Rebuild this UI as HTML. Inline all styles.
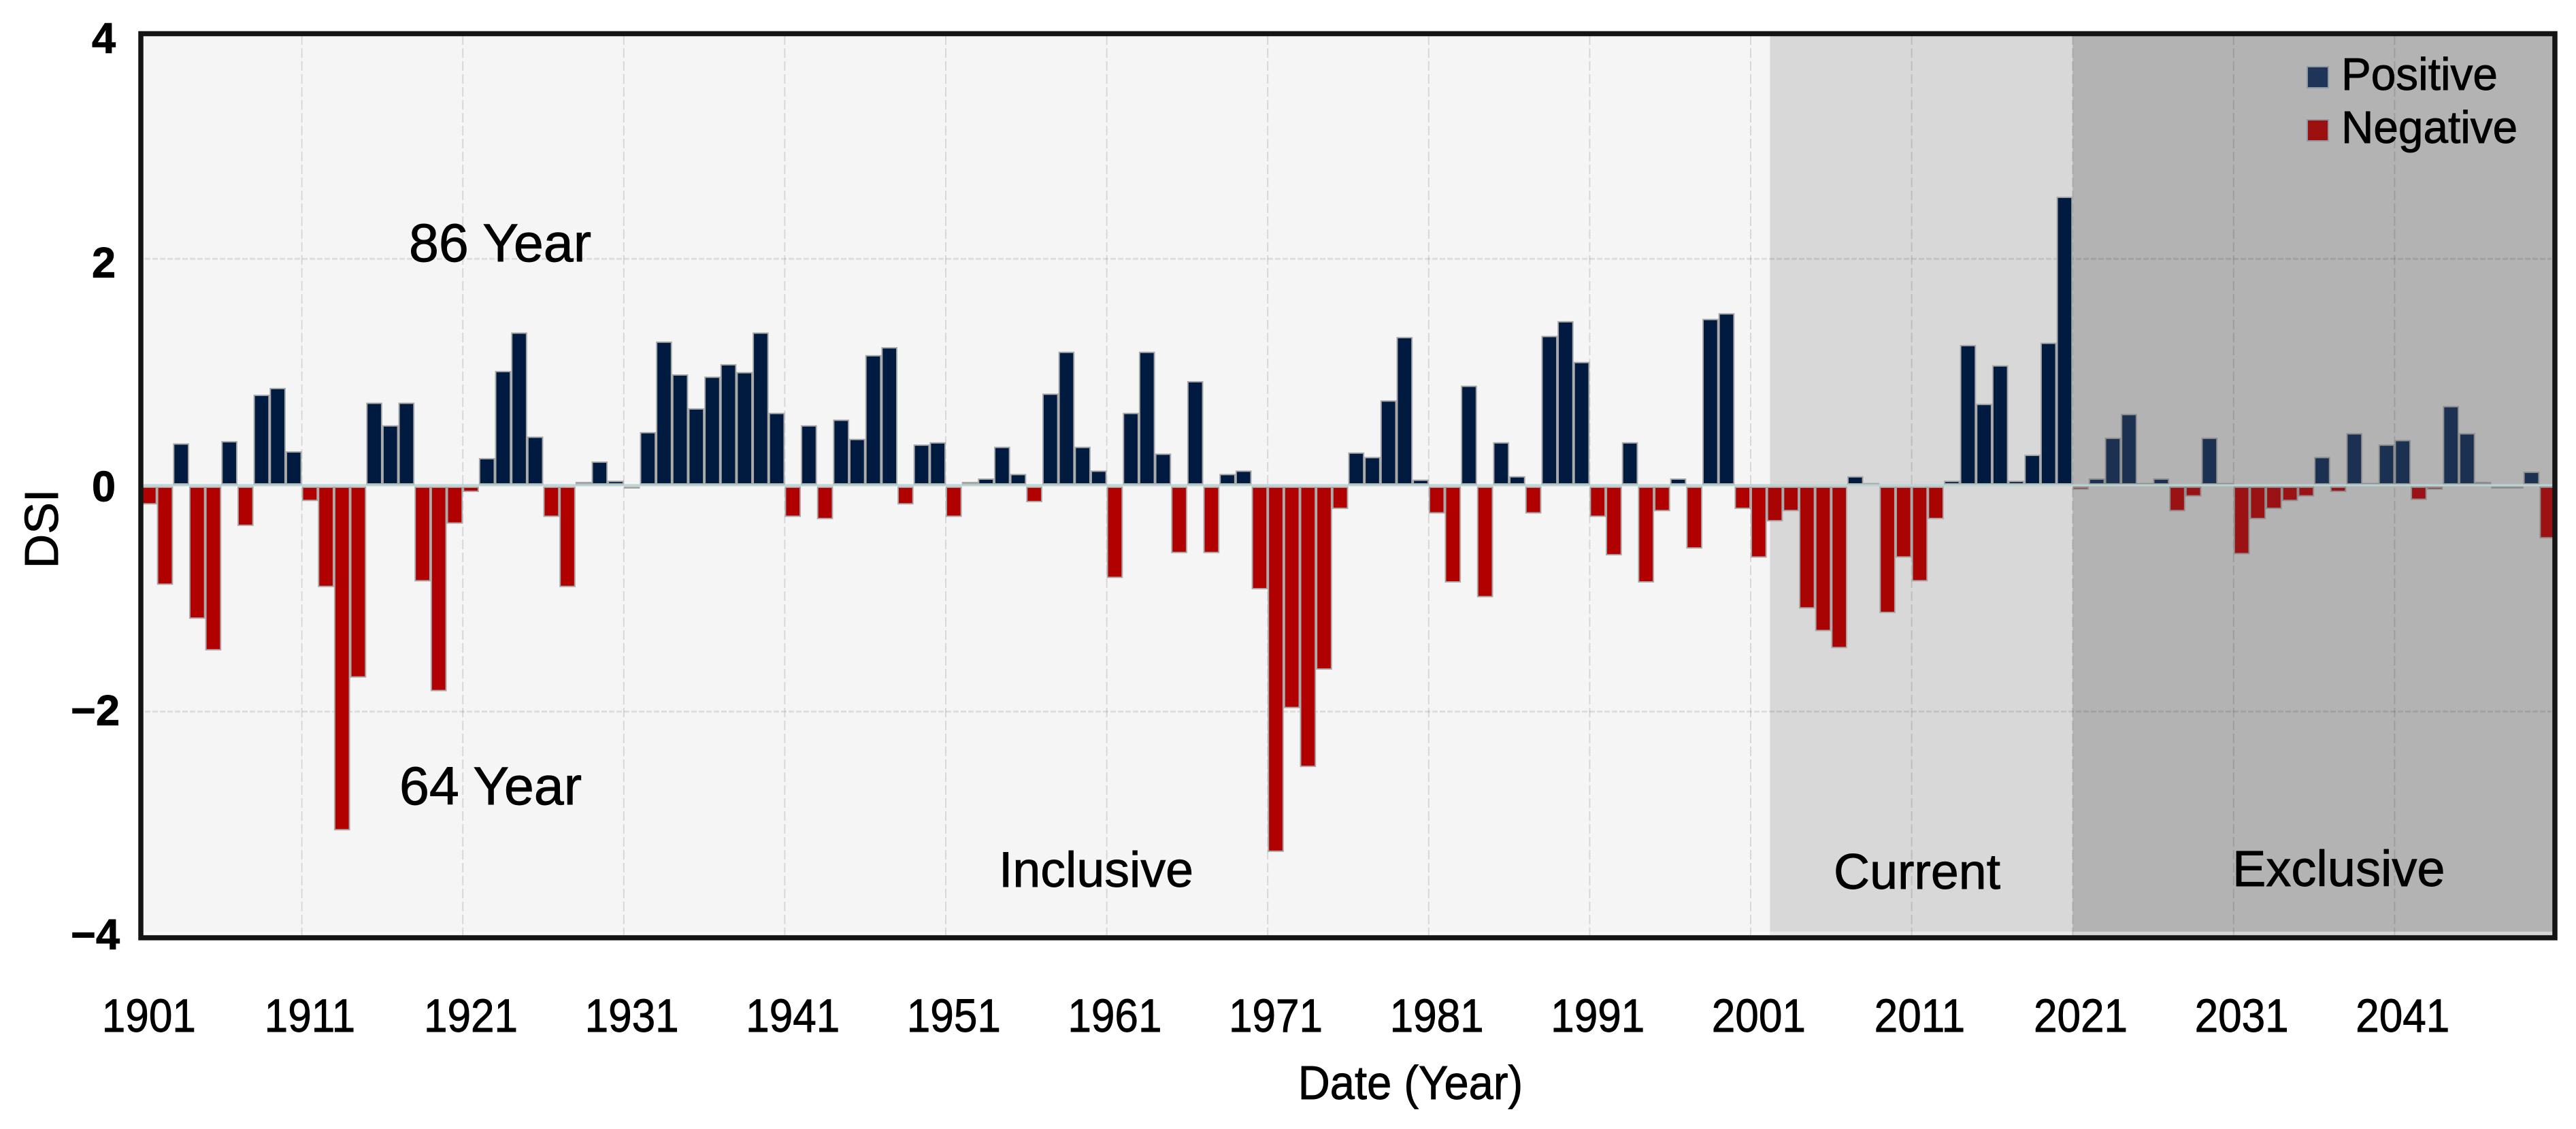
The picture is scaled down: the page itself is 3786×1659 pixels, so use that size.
<!DOCTYPE html>
<html lang="en">
<head>
<meta charset="utf-8">
<title>DSI by year</title>
<style>
html,body{margin:0;padding:0;background:#fff;width:3786px;height:1659px;overflow:hidden}
svg{display:block;font-family:"Liberation Sans",sans-serif}
text{fill:#000;stroke:#000;stroke-width:0.9px}
</style>
</head>
<body>
<svg id="chart" xmlns="http://www.w3.org/2000/svg" width="3786" height="1659" viewBox="0 0 3786 1659">
  <rect x="0" y="0" width="3786" height="1659" fill="#ffffff"/>
  <g id="regions"></g>
  <g id="grid"></g>
  <g id="bars"></g>
  <rect x="211" y="711.5" width="3540" height="3" fill="#b9d2d2"/>
  <rect x="207" y="49.5" width="3548" height="1328.5" fill="none" stroke="#141414" stroke-width="7.5"/>
  <g id="y-ticks"></g>
  <g id="x-ticks"></g>
  <text transform="translate(85,777) rotate(-90)" font-size="70" text-anchor="middle">DSI</text>
  <text transform="translate(2073,1615) scale(0.93,1)" font-size="70" text-anchor="middle">Date (Year)</text>
  <text x="601" y="384" font-size="79">86 Year</text>
  <text x="587" y="1182" font-size="79">64 Year</text>
  <text x="1468" y="1303" font-size="73.5">Inclusive</text>
  <text x="2695" y="1306" font-size="73.5">Current</text>
  <text x="3281" y="1302" font-size="74">Exclusive</text>
  <g>
    <g>
      <rect x="3391" y="98" width="31" height="31" fill="#1f3557" stroke="#8f9aa5" stroke-width="2"/>
      <text transform="translate(3441,132) scale(0.98,1)" font-size="67">Positive</text>
    </g>
    <g>
      <rect x="3391" y="176" width="31" height="31" fill="#9c1010" stroke="#8f9aa5" stroke-width="2"/>
      <text transform="translate(3441,210) scale(0.98,1)" font-size="67">Negative</text>
    </g>
  </g>
</svg>
<script>
const firstYear = 1901;
const dsiValues = [
  -0.17,-0.88,0.37,-1.18,-1.46,0.39,-0.36,0.80,0.86,0.30,
  -0.14,-0.90,-3.05,-1.70,0.73,0.53,0.73,-0.85,-1.82,-0.34,
  -0.06,0.24,1.01,1.35,0.43,-0.28,-0.90,0.03,0.21,0.04,
  -0.03,0.47,1.27,0.98,0.68,0.96,1.07,1.00,1.35,0.64,
  -0.28,0.53,-0.30,0.58,0.41,1.15,1.22,-0.17,0.36,0.38,
  -0.28,0.03,0.06,0.34,0.10,-0.15,0.81,1.18,0.34,0.13,
  -0.82,0.64,1.18,0.28,-0.60,0.92,-0.60,0.10,0.13,-0.92,
  -3.24,-1.97,-2.49,-1.63,-0.21,0.29,0.25,0.75,1.31,0.05,
  -0.25,-0.86,0.88,-0.99,0.38,0.08,-0.25,1.32,1.45,1.09,
  -0.28,-0.62,0.38,-0.86,-0.23,0.06,-0.56,1.47,1.52,-0.21,
  -0.64,-0.32,-0.23,-1.09,-1.29,-1.44,0.08,0.02,-1.13,-0.64,
  -0.85,-0.30,0.04,1.24,0.72,1.06,0.04,0.27,1.26,2.55,
  -0.04,0.06,0.42,0.63,0.02,0.06,-0.23,-0.10,0.42,0.02,
  -0.61,-0.30,-0.21,-0.14,-0.10,0.25,-0.06,0.46,0.02,0.36,
  0.40,-0.13,-0.04,0.70,0.46,0.03,-0.03,-0.03,0.12,-0.47
];
const xTickYears = [1901,1911,1921,1931,1941,1951,1961,1971,1981,1991,2001,2011,2021,2031,2041];
const yTickValues = [4,2,0,-2,-4];
const yTickLabels = ["4","2","0","\u22122","\u22124"];
const gridValues = [2,-2];
const regionNames = ["inclusive","current","exclusive"];
const regionStartYears = [1901,2002.2,2021];
const regionEndYears = [2002.2,2021,2051];
const regionColors = ["#f5f5f5","#d8d8d8","#b3b3b3"];

const NS = "http://www.w3.org/2000/svg";
const plotLeft = 207, yearStep = 23.66, zeroY = 713, unitY = 166.3;
function xScale(year){ return plotLeft + (year - firstYear) * yearStep; }
function yScale(value){ return zeroY - value * unitY; }
function yLabelBaseline(value){ return 736.5 - value * 164.6; }
function make(tag, attrs, parent){
  const node = document.createElementNS(NS, tag);
  Object.keys(attrs).forEach(function(k){ node.setAttribute(k, attrs[k]); });
  parent.appendChild(node);
  return node;
}

const regionsGroup = document.getElementById("regions");
regionNames.forEach(function(name, i){
  const left = Math.max(xScale(regionStartYears[i]), 207);
  const right = Math.min(xScale(regionEndYears[i]), 3755);
  const band = make("rect", {x:left, y:50, width:right-left, height:1328, fill:regionColors[i]}, regionsGroup);
  
  
  const strip = make("rect", {x:left, y:1369, width:right-left, height:6, fill:"#ffffff", opacity:0.45}, regionsGroup);
  
  
});

const gridGroup = document.getElementById("grid");
xTickYears.forEach(function(year){
  if (year === firstYear) return;
  const gx = xScale(year);
  const vLine = make("line", {x1:gx, x2:gx, y1:52, y2:1374, stroke:"#000", "stroke-opacity":0.12, "stroke-width":2, "stroke-dasharray":"14 5"}, gridGroup);
  
  
});
gridValues.forEach(function(value){
  const gy = yScale(value);
  const hLine = make("line", {x1:213, x2:3750, y1:gy, y2:gy, stroke:"#000", "stroke-opacity":0.09, "stroke-width":3, "stroke-dasharray":"8 3"}, gridGroup);
  
  
});

const barsGroup = document.getElementById("bars");
dsiValues.forEach(function(value, i){
  const year = firstYear + i;
  const left = xScale(year);
  const exclusive = year >= 2021;
  const isPos = value >= 0;
  const fill = isPos ? (exclusive ? "#1c3152" : "#011a40") : (exclusive ? "#9a1214" : (year >= 2002 ? "#a80404" : "#b00000"));
  const vy = yScale(value);
  const top = isPos ? vy + 1 : zeroY + 3;
  const bottom = isPos ? zeroY - 2 : vy - 1;
  const bar = make("rect", {x:left+1, y:top, width:yearStep-2, height:Math.max(bottom-top,0.5), fill:fill, stroke:exclusive ? "#8e8e8e" : "#a8a8a8", "stroke-width":2}, barsGroup);
  
  
});

const yTicksGroup = document.getElementById("y-ticks");
yTickValues.forEach(function(value, i){
  const isNeg = value < 0;
  const t = make("text", {x:isNeg ? 176 : 170, y:yLabelBaseline(value), "font-size":63, "font-weight":"bold", "text-anchor":"end"}, yTicksGroup);
  t.textContent = yTickLabels[i];
  
  
});

const xTicksGroup = document.getElementById("x-ticks");
xTickYears.forEach(function(year){
  const cx = xScale(year) + yearStep / 2;
  const t = make("text", {transform:"translate(" + cx + ",1516) scale(0.9,1)", "font-size":69, "text-anchor":"middle"}, xTicksGroup);
  t.textContent = String(year);
  
  
});
</script>
</body>
</html>
